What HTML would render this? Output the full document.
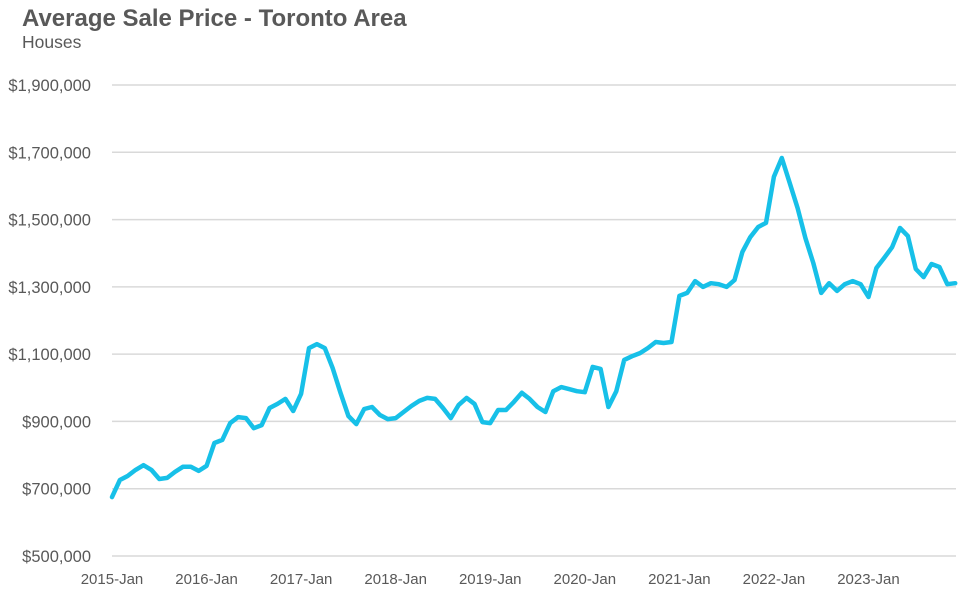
<!DOCTYPE html>
<html><head><meta charset="utf-8"><style>
body{margin:0;background:#fff;font-family:"Liberation Sans",Arial,sans-serif}
svg text{font-family:"Liberation Sans",Arial,sans-serif}
</style></head><body>
<svg width="972" height="598" xmlns="http://www.w3.org/2000/svg">
<text x="22" y="26" font-size="24" font-weight="bold" fill="#595959">Average Sale Price - Toronto Area</text>
<text x="22" y="48" font-size="17.5" fill="#595959">Houses</text>
<g id="grid"></g><g id="yl"></g><g id="xl"></g>
<path id="line" fill="none" stroke="#17c0e8" stroke-width="4.5" stroke-linejoin="round" stroke-linecap="round"/>
</svg>
<script>
const yTicks=[500000,700000,900000,1100000,1300000,1500000,1700000,1900000];
const xTickLabels=["2015-Jan","2016-Jan","2017-Jan","2018-Jan","2019-Jan","2020-Jan","2021-Jan","2022-Jan","2023-Jan"];
const prices=[675,726,738,756,770,756,729,732,750,765,765,753,768,836,845,895,913,910,880,889,940,952,967,931,982,1118,1130,1118,1059,985,916,892,937,943,919,907,910,
928,946,961,970,967,940,910,949,970,952,898,895,934,934,958,985,967,943,928,990,1002,996,990,987,1062,1056,943,990,1083,1094,1103,1118,1136,1133,1136,
1273,1282,1317,1300,1311,1308,1300,1320,1404,1448,1478,1490,1627,1683,1609,1534,1445,1371,1282,1311,1288,1308,1317,1308,1270,1356,1386,1418,1475,1451,1353,1329,1368,1359,1308,1311].map(v=>v*1000);
const ns="http://www.w3.org/2000/svg";
const x0=112,x1=956,step=7.88;
const X=i=>x0+i*step;
const Y=v=>85+(1900000-v)/1400000*471;
const grid=document.getElementById('grid'),yl=document.getElementById('yl'),xl=document.getElementById('xl');
yTicks.forEach(t=>{
 const l=document.createElementNS(ns,'line');
 l.setAttribute('x1',x0);l.setAttribute('x2',x1);l.setAttribute('y1',Y(t));l.setAttribute('y2',Y(t));
 l.setAttribute('stroke','#d9d9d9');l.setAttribute('stroke-width','1.5');
 
 
 grid.appendChild(l);
 const tx=document.createElementNS(ns,'text');
 tx.setAttribute('x',91);tx.setAttribute('y',Y(t)+6);tx.setAttribute('text-anchor','end');
 tx.setAttribute('font-size','16.5');tx.setAttribute('fill','#595959');
 tx.textContent='$'+t.toLocaleString('en-US');
 
 
 yl.appendChild(tx);
});
xTickLabels.forEach((s,k)=>{
 const tx=document.createElementNS(ns,'text');
 tx.setAttribute('x',X(k*12));tx.setAttribute('y',584);tx.setAttribute('text-anchor','middle');
 tx.setAttribute('font-size','15');tx.setAttribute('fill','#595959');
 tx.textContent=s;
 
 
 xl.appendChild(tx);
});
document.getElementById('line').setAttribute('d',prices.map((v,i)=>(i?'L':'M')+X(i).toFixed(1)+','+Y(v).toFixed(1)).join(''));
</script>
</body></html>
